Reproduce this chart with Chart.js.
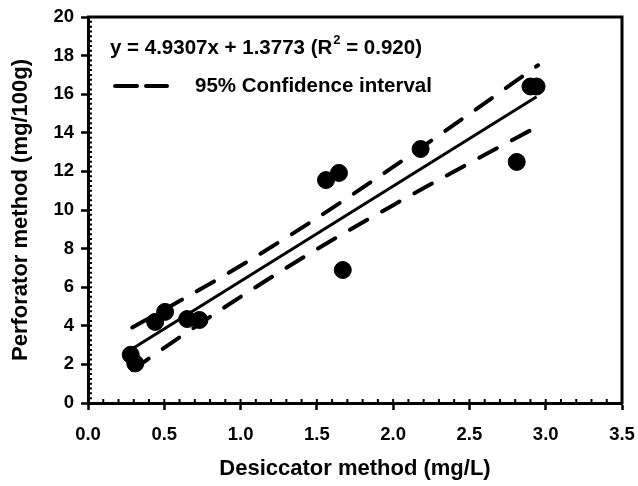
<!DOCTYPE html>
<html>
<head>
<meta charset="utf-8">
<script src="https://cdn.jsdelivr.net/npm/chart.js@4/dist/chart.umd.min.js"></script>
<style>
html, body { margin: 0; padding: 0; background: #fff; }
</style>
</head>
<body>
<canvas id="myChart" width="638" height="486"></canvas>
<script>

var xValues = [0.28, 0.31, 0.44, 0.505, 0.65, 0.73, 1.56, 1.645, 1.67, 2.18, 2.81, 2.90, 2.94];
var yValues = [2.5, 2.05, 4.2, 4.72, 4.35, 4.3, 11.55, 11.92, 6.89, 13.16, 12.49, 16.4, 16.4];

// regression line ends
var fitX = [0.28, 2.94];
var fitY = [2.76, 15.87];

// 95% confidence band
var bandX = [0.29, 0.6, 1.0, 1.5, 2.0, 2.5, 2.95];
var bandUpper = [3.91, 5.28, 7.11, 9.58, 12.23, 14.98, 17.50];
var bandLower = [1.71, 3.40, 5.50, 7.97, 10.25, 12.43, 14.34];

// tick labels
var xTicks = [0, 0.5, 1.0, 1.5, 2.0, 2.5, 3.0, 3.5];
var yTicks = [0, 2, 4, 6, 8, 10, 12, 14, 16, 18, 20];

var fitText = ["y = 4.9307x + 1.3773 (R", "2", " = 0.920)"];
var bandText = "95% Confidence interval";

var FONT = "'Liberation Sans', Arial, sans-serif";

const toPoints = (xs, ys) => xs.map((v, i) => ({x: v, y: ys[i]}));

// frame, minor ticks and the legend box
const extras = {
    id: 'extras',
    afterDraw(chart) {
        const ctx = chart.ctx;
        const a = chart.chartArea;
        const x = chart.scales.x;
        const y = chart.scales.y;
        ctx.save();
        ctx.strokeStyle = '#000';
        ctx.lineWidth = 3;
        ctx.beginPath();
        ctx.moveTo(a.left - 1, a.top);
        ctx.lineTo(a.right, a.top);
        ctx.lineTo(a.right, a.bottom + 1);
        ctx.stroke();

        // minor ticks, pointing inside
        ctx.lineWidth = 2;
        ctx.beginPath();
        for (let v = 0.1; v < 3.5; v += 0.1) {
            let px = x.getPixelForValue(v);
            ctx.moveTo(px, a.bottom);
            ctx.lineTo(px, a.bottom - 4);
        }
        for (let v = 0.25; v < 20; v += 0.25) {
            let py = y.getPixelForValue(v);
            ctx.moveTo(a.left, py);
            ctx.lineTo(a.left + 4, py);
        }
        ctx.stroke();

        // legend
        ctx.fillStyle = '#000';
        ctx.textBaseline = 'middle';
        ctx.font = 'bold 20.5px ' + FONT;
        let lx = a.left + 22;
        let ly = a.top + 31;
        ctx.fillText(fitText[0], lx, ly);
        lx += ctx.measureText(fitText[0]).width + 1;
        ctx.font = 'bold 13px ' + FONT;
        ctx.fillText(fitText[1], lx, ly - 8);
        lx += ctx.measureText(fitText[1]).width;
        ctx.font = 'bold 20.5px ' + FONT;
        ctx.fillText(fitText[2], lx, ly);

        let ly2 = a.top + 69;
        ctx.lineWidth = 4;
        ctx.lineCap = 'round';
        ctx.setLineDash([22, 9]);
        ctx.beginPath();
        ctx.moveTo(a.left + 27, ly2);
        ctx.lineTo(a.left + 79, ly2);
        ctx.stroke();
        ctx.setLineDash([]);
        ctx.fillText(bandText, a.left + 107, ly2);
        ctx.restore();
    }
};

new Chart("myChart", {
    type: "scatter",
    data: {
        datasets: [
            {
                data: toPoints(xValues, yValues),
                backgroundColor: "#000",
                borderColor: "#000",
                pointRadius: 8.5,
                pointHoverRadius: 8.5,
                showLine: false
            },
            {
                data: toPoints(fitX, fitY),
                showLine: true,
                borderColor: "#000",
                borderWidth: 3,
                pointRadius: 0
            },
            {
                data: toPoints(bandX, bandUpper),
                showLine: true,
                borderColor: "#000",
                borderWidth: 4,
                borderDash: [20, 17],
                borderCapStyle: "round",
                cubicInterpolationMode: "monotone",
                pointRadius: 0
            },
            {
                data: toPoints(bandX, bandLower),
                showLine: true,
                borderColor: "#000",
                borderWidth: 4,
                borderDash: [20, 17],
                borderCapStyle: "round",
                cubicInterpolationMode: "monotone",
                pointRadius: 0
            }
        ]
    },
    options: {
        responsive: false,
        animation: false,
        layout: { padding: { top: 17, right: 16, left: 0, bottom: 0 } },
        plugins: {
            legend: { display: false },
            tooltip: { enabled: false }
        },
        scales: {
            x: {
                type: "linear",
                min: 0,
                max: 3.5,
                afterBuildTicks: (s) => { s.ticks = xTicks.map(v => ({value: v})); },
                afterFit: (s) => { s.height = 83; s.paddingLeft = 0; s.paddingRight = 0; },
                ticks: {
                    color: "#000",
                    font: { family: FONT, size: 18.5, weight: "bold" },
                    padding: 14,
                    maxRotation: 0,
                    callback: (v) => Number(v).toFixed(1)
                },
                grid: {
                    display: true,
                    drawOnChartArea: false,
                    drawTicks: true,
                    tickLength: 7,
                    tickWidth: 2.5,
                    tickColor: "#000"
                },
                border: { display: true, color: "#000", width: 3 },
                title: {
                    display: true,
                    text: "Desiccator method (mg/L)",
                    color: "#000",
                    font: { family: FONT, size: 22, weight: "bold" },
                    padding: { top: 4, bottom: 4 }
                }
            },
            y: {
                min: 0,
                max: 20,
                afterBuildTicks: (s) => { s.ticks = yTicks.map(v => ({value: v})); },
                afterFit: (s) => { s.width = 88; s.paddingTop = 0; s.paddingBottom = 0; },
                ticks: {
                    color: "#000",
                    font: { family: FONT, size: 18.5, weight: "bold" },
                    padding: 7
                },
                grid: {
                    display: true,
                    drawOnChartArea: false,
                    drawTicks: true,
                    tickLength: 7,
                    tickWidth: 2.5,
                    tickColor: "#000"
                },
                border: { display: true, color: "#000", width: 3 },
                title: {
                    display: true,
                    text: "Perforator method (mg/100g)",
                    color: "#000",
                    font: { family: FONT, size: 22, weight: "bold" },
                    padding: { top: 8, bottom: 4 }
                }
            }
        }
    },
    plugins: [extras]
});

</script>
</body>
</html>
